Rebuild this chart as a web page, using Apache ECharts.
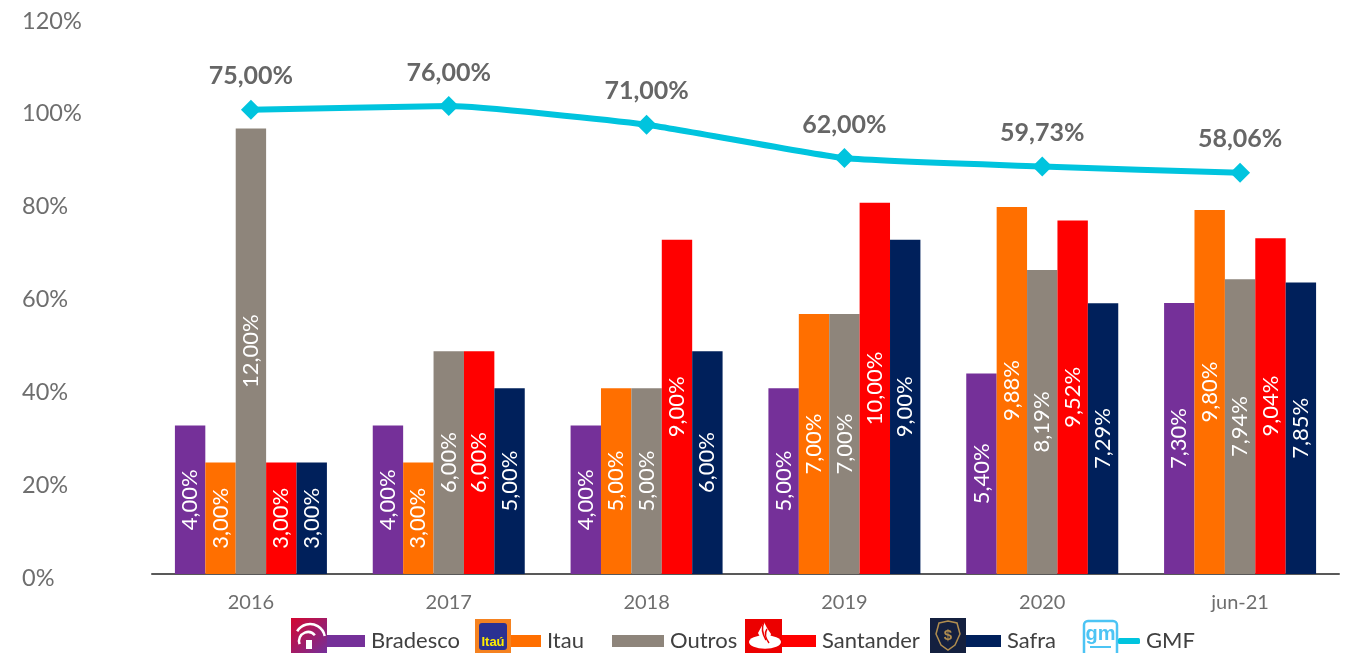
<!DOCTYPE html>
<html>
<head>
<meta charset="utf-8">
<style>html,body{margin:0;padding:0;background:#fff}#c{width:1345px;height:653px}</style>
<script src="https://cdn.jsdelivr.net/npm/echarts@6/dist/echarts.min.js"></script>
</head>
<body>
<div id="c"></div>
<script>
var categories = ['2016','2017','2018','2019','2020','jun-21'];
var bradesco = [4,4,4,5,5.40,7.30];
var itau = [3,3,5,7,9.88,9.80];
var outros = [12,6,5,7,8.19,7.94];
var santander = [3,6,9,10,9.52,9.04];
var safra = [3,5,6,9,7.29,7.85];
var gmf = [75,76,71,62,59.73,58.06];

var FONT = 'Lato';
function pct(p){ return p.value.toFixed(2).replace('.',',') + '%'; }
function bar(name, data, color){
  return {name:name,type:'bar',yAxisIndex:1,data:data,barWidth:30.4,barGap:0,
    itemStyle:{color:color},
    label:{show:true,position:'inside',rotate:90,formatter:pct,color:'#fff',fontFamily:FONT,fontSize:22,align:'center',verticalAlign:'middle'}};
}
function leg(name,left,w,h,icon){
  return {show:true,padding:0,data:[{name:name,icon:icon||'rect'}],left:left,top:630,itemWidth:w,itemHeight:h,
    textStyle:{fontFamily:FONT,fontSize:22,color:'#404040',padding:[0,0,0,1]},selectedMode:false};
}
var gold='#b08d4f', gmBlue='#4cc4f4';
var logos = [
  // Bradesco
  {type:'rect',shape:{x:291,y:618,width:36,height:35},style:{fill:new echarts.graphic.LinearGradient(0,0,1,1,[{offset:0,color:'#d4062f'},{offset:1,color:'#73309b'}])}},
  {type:'arc',shape:{cx:310,cy:639,r:15,startAngle:-2.6,endAngle:-0.2},style:{stroke:'#fff',lineWidth:2.5,fill:null}},
  {type:'arc',shape:{cx:308,cy:641,r:9,startAngle:-3.5,endAngle:-0.7},style:{stroke:'#fff',lineWidth:2.5,fill:null}},
  {type:'rect',shape:{x:306,y:640,width:6,height:9},style:{fill:'#fff'}},
  // Itau
  {type:'rect',shape:{x:475,y:619,width:36,height:34},style:{fill:'#f58220'}},
  {type:'rect',shape:{x:479,y:623,width:28,height:27,r:3},style:{fill:'#2b3192'}},
  {type:'text',style:{x:493,y:642,text:'Itaú',fill:'#ffec00',fontFamily:'Liberation Sans',fontWeight:'bold',fontSize:13,align:'center',verticalAlign:'middle'}},
  // Santander
  {type:'rect',shape:{x:745,y:619,width:37,height:34},style:{fill:'#ec0000'}},
  {type:'circle',shape:{cx:0,cy:0,r:16},x:765,y:642,scaleY:0.42,style:{fill:'#fff'}},
  {type:'polygon',shape:{points:[[762,641],[758,633],[764,622],[767,628],[771,634],[769,641]]},style:{fill:'#fff'}},
  {type:'bezierCurve',shape:{x1:764,y1:622,cpx1:760,cpy1:630,x2:766,y2:640},style:{stroke:'#ec0000',lineWidth:1.5,fill:null}},
  {type:'bezierCurve',shape:{x1:767,y1:629,cpx1:763,cpy1:635,x2:769,y2:643},style:{stroke:'#ec0000',lineWidth:1.5,fill:null}},
  // Safra
  {type:'rect',shape:{x:930,y:618,width:36,height:35},style:{fill:'#14203f'}},
  {type:'polygon',shape:{points:[[939,623],[948,621],[957,623],[960,634],[955,645],[948,650],[941,645],[936,634]]},style:{fill:null,stroke:gold,lineWidth:1.5}},
  {type:'text',style:{x:948,y:636,text:'$',fill:gold,fontFamily:'Liberation Sans',fontWeight:'bold',fontSize:15,align:'center',verticalAlign:'middle'}},
  // GM
  {type:'rect',shape:{x:1084,y:621,width:33,height:40,r:4},style:{fill:'#fff',stroke:gmBlue,lineWidth:2.5}},
  {type:'text',style:{x:1100.5,y:634,text:'gm',fill:gmBlue,fontFamily:'Liberation Sans',fontWeight:'bold',fontSize:20,align:'center',verticalAlign:'middle'}},
  {type:'rect',shape:{x:1090,y:646,width:21,height:2},style:{fill:gmBlue}}
];

var chart = echarts.init(document.getElementById('c'),null,{renderer:'canvas'});
chart.setOption({
  animation:false,
  backgroundColor:'#fff',
  grid:{left:152,right:6,top:17,bottom:79,containLabel:false},
  legend:[
    leg('Bradesco',327,38,12),
    leg('Itau',511,30,12),
    leg('Outros',612,52,12),
    leg('Santander',782,34,12),
    leg('Safra',966,35,12),
    leg('GMF',1118,22,6,'roundRect')
  ],
  xAxis:{type:'category',data:categories,
    axisLine:{lineStyle:{color:'#595959',width:2}},axisTick:{show:false},
    axisLabel:{color:'#6e6e6e',fontFamily:FONT,fontSize:20,margin:19}},
  yAxis:[
    {type:'value',min:0,max:120,interval:20,position:'left',splitLine:{show:false},axisLine:{show:false},axisTick:{show:false},
      axisLabel:{formatter:'{value}%',color:'#6e6e6e',fontFamily:FONT,fontSize:23.5,align:'left',margin:130,verticalAlign:'top',lineHeight:8}},
    {type:'value',min:0,max:15,interval:5,show:false},
    {type:'value',min:-50,max:100,interval:50,show:false}
  ],
  series:[
    bar('Bradesco',bradesco,'#753099'),
    bar('Itau',itau,'#ff6f00'),
    bar('Outros',outros,'#8e857b'),
    bar('Santander',santander,'#ff0000'),
    bar('Safra',safra,'#00205b'),
    {name:'GMF',type:'line',yAxisIndex:2,data:gmf,smooth:0.15,z:5,
      symbol:'diamond',symbolSize:20,
      lineStyle:{color:'#00c4de',width:6},itemStyle:{color:'#00c4de'},
      label:{show:true,position:'top',distance:11,formatter:pct,color:'#666',fontFamily:FONT,fontSize:25,fontWeight:'bold'}}
  ],
  graphic:{elements:logos}
});
</script>
</body>
</html>
